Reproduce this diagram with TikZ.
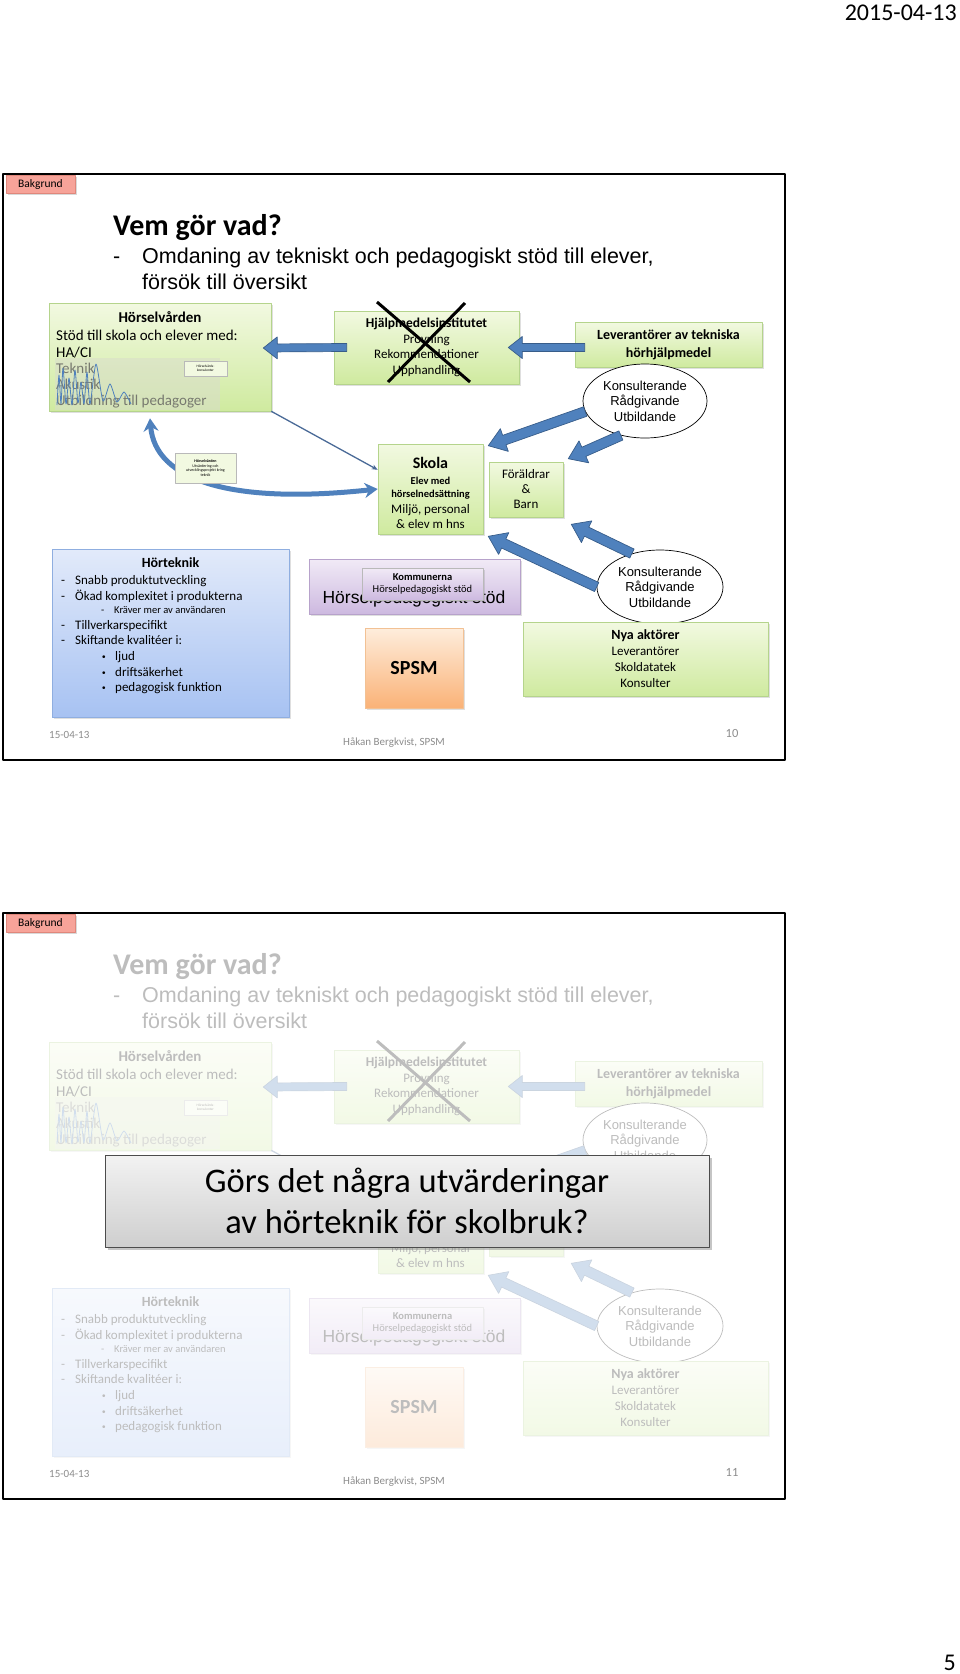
\documentclass[tikz,border=0pt]{standalone}
\usepackage{fontspec}
\setmainfont{Carlito}
\newfontfamily\arialfont{Liberation Sans}
\usetikzlibrary{calc,shadows,arrows.meta,shapes.geometric}

\definecolor{arrowblue}{HTML}{4F81BD}
\definecolor{arrowedge}{HTML}{385D8A}
\definecolor{thinblue}{HTML}{4A6A97}
\definecolor{greentop}{HTML}{F2F9E1}
\definecolor{greenbot}{HTML}{CFEA9F}
\definecolor{greenedge}{HTML}{B5D48C}
\definecolor{bluetop}{HTML}{E2EAFA}
\definecolor{bluebot}{HTML}{A7C2F2}
\definecolor{blueedge}{HTML}{8FAEE0}
\definecolor{purptop}{HTML}{F1EAF6}
\definecolor{purpbot}{HTML}{CDB9E0}
\definecolor{purpedge}{HTML}{B7A2CB}
\definecolor{komfill}{HTML}{EDE6F3}
\definecolor{orangetop}{HTML}{FEEDDC}
\definecolor{orangebot}{HTML}{FAB277}
\definecolor{orangeedge}{HTML}{F2C194}
\definecolor{tabfill}{HTML}{F7A399}
\definecolor{tabedge}{HTML}{E0877B}
\definecolor{footgray}{HTML}{8C8C8C}
\definecolor{veil}{HTML}{D9DDCB}

\newcommand{\fsz}[2]{\fontsize{#1}{#2}\selectfont}
\newcommand{\smallbullet}{\makebox[13pt][l]{\arialfont\fsz{10}{12}\textbullet}}

\newcommand{\barrow}[5]{%
  \coordinate (bh) at ($(#5)!#3pt!(#4)$);
  \filldraw[blockarrow] ($(#4)!#1pt!90:(#5)$) -- ($(bh)!#1pt!90:(#5)$) -- ($(bh)!#2pt!90:(#5)$)
    -- (#5) -- ($(bh)!#2pt!-90:(#5)$) -- ($(bh)!#1pt!-90:(#5)$) -- ($(#4)!#1pt!-90:(#5)$) -- cycle;}

\newcommand{\slidebody}{%
  \node[txtl, font=\bfseries\fsz{30}{36}] (title) at (113,235) {Vem gör vad?};
  \node[txtl, font=\arialfont\fsz{21.5}{26}] (dash) at (113,263) {-};
  \node[txtl, font=\arialfont\fsz{21.5}{26}] (sub1) at (142,263) {Omdaning av tekniskt och pedagogiskt stöd till elever,};
  \node[txtl, font=\arialfont\fsz{21.5}{26}] (sub2) at (142,289) {försök till översikt};
  \node[gbox, minimum width=222pt, minimum height=108pt] (hv) at (160,357) {};
  \node[txt, font=\bfseries\fsz{15}{18}] (hvt) at (160,322) {Hörselvården};
  \node[txtl, font=\fsz{15}{18}] (hv1) at (56,340) {Stöd till skola och elever med:};
  \node[txtl, font=\fsz{15}{18}] (hv2) at (56,357) {HA/CI};
  \node[txtl, font=\fsz{15}{18}] (hv3) at (56,373) {Teknik};
  \node[txtl, font=\fsz{15}{18}] (hv4) at (56,389) {Akustik};
  \node[txtl, font=\fsz{15}{18}] (hv5) at (56,405) {Utbildning till pedagoger};
  \fill[veil, opacity=0.55] (55,358) rectangle (220,410);
  \draw[arrowblue, line width=0.8pt] plot[smooth, tension=0.4] coordinates {(57,405) (59,375) (61,404)
    (63,368) (66,404) (69,378) (72,405) (75,370) (78,403) (81,382) (84,404) (87,372) (90,404)
    (96,364) (103,401) (110,384) (117,402) (124,392) (131,404)};
  \node[smallbox, minimum width=43pt, minimum height=15pt, font=\fsz{3.5}{4.2}] (kons) at (205.5,368.5) {Hörselvårds-\\konsulenter};
  \node[gbox, minimum width=185pt, minimum height=73pt, align=center, font=\fsz{13}{15.5}] (hjm) at (426.5,347.5)
    {{\bfseries\fsz{13.5}{15.5}Hjälpmedelsinstitutet}\\Provning\\Rekommendationer\\Upphandling};
  \draw[line width=3pt] (377,302) -- (470,382);
  \draw[line width=3pt] (465,303) -- (388,382);
  \node[gbox, minimum width=187pt, minimum height=45pt, align=center, font=\bfseries\fsz{14}{18}] (lev) at (668.5,344.5)
    {Leverantörer av tekniska\\hörhjälpmedel};
  \node[gbox, minimum width=105pt, minimum height=90pt] (skola) at (430.5,489) {};
  \node[txt, font=\bfseries\fsz{16}{18}] (skt) at (430.5,468) {Skola};
  \node[txt, font=\bfseries\fsz{10.5}{12}] (sk1) at (430.5,484) {Elev med};
  \node[txt, font=\bfseries\fsz{10.5}{12}] (sk2) at (430.5,497) {hörselnedsättning};
  \node[txt, font=\fsz{13}{15}] (sk3) at (430.5,513) {Miljö, personal};
  \node[txt, font=\fsz{13}{15}] (sk4) at (430.5,528) {\& elev m hns};
  \node[gbox, minimum width=74pt, minimum height=55pt, align=center, font=\fsz{13}{15}] (foraldrar) at (526,489.5)
    {Föräldrar\\\&\\Barn};
  \node[bbox, minimum width=237pt, minimum height=168pt] (horteknik) at (170.5,633) {};
  \node[txt, font=\bfseries\fsz{14}{16}] (htt) at (170.5,567) {Hörteknik};
  \node[txtl, font=\fsz{13}{15}] (ht1) at (61,584) {\makebox[14pt][l]{-}Snabb produktutveckling};
  \node[txtl, font=\fsz{13}{15}] (ht2) at (61,600) {\makebox[14pt][l]{-}Ökad komplexitet i produkterna};
  \node[txtl, font=\fsz{10.5}{12}] (ht3) at (101,613) {\makebox[13pt][l]{-}Kräver mer av användaren};
  \node[txtl, font=\fsz{13}{15}] (ht4) at (61,629) {\makebox[14pt][l]{-}Tillverkarspecifikt};
  \node[txtl, font=\fsz{13}{15}] (ht5) at (61,644) {\makebox[14pt][l]{-}Skiftande kvalitéer i:};
  \node[txtl, font=\fsz{13}{15}] (ht6) at (102,660) {\smallbullet ljud};
  \node[txtl, font=\fsz{13}{15}] (ht7) at (102,676) {\smallbullet driftsäkerhet};
  \node[txtl, font=\fsz{13}{15}] (ht8) at (102,691) {\smallbullet pedagogisk funktion};
  \node[pbox, minimum width=211pt, minimum height=55pt] (hps) at (414.5,586.5) {};
  \node[txt, font=\arialfont\fsz{17.5}{20}] (hpst) at (414,603) {Hörselpedagogiskt stöd};
  \node[pbox, fill=komfill, draw=gray!55, minimum width=121pt, minimum height=32pt, align=center, font=\fsz{10.5}{12}] (kommun) at (422.5,584)
    {\textbf{Kommunerna}\\Hörselpedagogiskt stöd};
  \node[obox, minimum width=98pt, minimum height=80pt, font=\bfseries\fsz{20}{24}] (spsm) at (414,668) {SPSM};
  \barrow{4}{11}{14}{$(hjm.west)+(13,0)$}{$(hv.east)+(-8,-9)$}
  \barrow{4}{11}{14}{$(lev.west)+(10,3)$}{$(hjm.east)+(-11,0)$}
  \draw[thinline] (hv.south east) -- (skola.160);
  \draw[curvearrow] ($(hv.south)+(-10,7)$) .. controls (155,480) and (230,505) .. (skola.west);
  \node[smallbox, minimum width=61pt, minimum height=30pt, font=\fsz{4}{4.8}] (sv) at (205.5,468)
    {\textbf{Hörselvården}\\Utvärdering och\\utvecklingsprojekt kring\\teknik};
  \node[oval, minimum width=124pt, minimum height=74pt, font=\arialfont\fsz{13}{15.5}] (ell1) at (645,401)
    {Konsulterande\\Rådgivande\\Utbildande};
  \barrow{5}{12}{17}{ell1.190}{$(skola.north east)+(5,2)$}
  \barrow{5}{12}{17}{ell1.235}{$(foraldrar.north east)+(5,-3)$}
  \node[oval, minimum width=126pt, minimum height=74pt, font=\arialfont\fsz{13}{15.5}] (ell2) at (660,587)
    {Konsulterande\\Rådgivande\\Utbildande};
  \barrow{5}{12}{17}{ell2.180}{$(skola.south east)+(5,2)$}
  \barrow{5}{12}{17}{ell2.130}{$(foraldrar.south east)+(8,7)$}
  \node[gbox, minimum width=245pt, minimum height=74pt, align=center, font=\fsz{13}{16}] (nya) at (645.5,659)
    {{\bfseries\fsz{14}{16}Nya aktörer}\\Leverantörer\\Skoldatatek\\Konsulter};
}

\newcommand{\slideframe}[1]{%
  \draw[line width=2pt] (3,174) rectangle (785,760);
  \node[tab, minimum width=69pt, minimum height=18pt, font=\fsz{11.5}{13}] (tab) at (40.5,184) {Bakgrund};
  \node[txtl, font=\fsz{11}{13}, text=footgray] (datum) at (49,738) {15-04-13};
  \node[txt, font=\fsz{11}{13}, text=footgray] (namn) at (394,745) {Håkan Bergkvist, SPSM};
  \node[txt, font=\fsz{12.5}{14}, text=footgray] (nr) at (732,737) {#1};
}

\begin{document}
\begin{tikzpicture}[x=1pt,y=-1pt,line join=round,
  txt/.style={inner sep=0pt,anchor=base},
  txtl/.style={inner sep=0pt,anchor=base west},
  gbox/.style={draw=greenedge,line width=0.6pt,top color=greentop,bottom color=greenbot,inner sep=0pt,
    drop shadow={opacity=0.25,shadow xshift=1.5pt,shadow yshift=-2pt}},
  bbox/.style={draw=blueedge,line width=0.6pt,top color=bluetop,bottom color=bluebot,inner sep=0pt,
    drop shadow={opacity=0.25,shadow xshift=1.5pt,shadow yshift=-2pt}},
  pbox/.style={draw=purpedge,line width=0.6pt,top color=purptop,bottom color=purpbot,inner sep=0pt,
    drop shadow={opacity=0.25,shadow xshift=1.5pt,shadow yshift=-2pt}},
  obox/.style={draw=orangeedge,line width=0.6pt,top color=orangetop,bottom color=orangebot,inner sep=0pt,
    drop shadow={opacity=0.25,shadow xshift=1.5pt,shadow yshift=-2pt}},
  smallbox/.style={draw=gray!55,fill=greentop,line width=0.4pt,inner sep=0pt,align=center,
    drop shadow={opacity=0.2,shadow xshift=1pt,shadow yshift=-1pt}},
  tab/.style={draw=tabedge,fill=tabfill,line width=0.5pt,inner sep=0pt,
    drop shadow={opacity=0.3,shadow xshift=1.5pt,shadow yshift=-2pt}},
  oval/.style={ellipse,draw,fill=white,line width=0.7pt,inner sep=0pt,align=center},
  blockarrow/.style={fill=arrowblue,draw=arrowedge,line width=0.7pt},
  thinline/.style={thinblue,line width=1.3pt,-{Stealth[length=6pt,width=5pt]}},
  curvearrow/.style={arrowblue,line width=5pt,{Stealth[length=13pt,width=15pt]}-{Stealth[length=13pt,width=15pt]}},
  popup/.style={draw=black!70,line width=0.8pt,top color=gray!10,bottom color=gray!38,inner sep=0pt,align=center,
    drop shadow={opacity=0.45,shadow xshift=2.5pt,shadow yshift=-3pt}}]
  \useasboundingbox (0,0) rectangle (960,1674);
  \node[anchor=base east, inner sep=0pt, font=\fsz{24}{28}] (hdate) at (957,20) {2015-04-13};
  \begin{scope}[name prefix=a-]
    \slidebody
    \slideframe{10}
  \end{scope}
  \begin{scope}[yshift=-739pt, name prefix=b-]
    \slidebody
    \fill[white, opacity=0.74] (5,195) rectangle (782,722);
    \slideframe{11}
    \node[popup, minimum width=604pt, minimum height=92pt, font=\fsz{34.5}{41}] (fraga) at (407,462)
      {Görs det några utvärderingar\\av hörteknik för skolbruk?};
  \end{scope}
  \node[anchor=base east, inner sep=0pt, font=\fsz{24}{28}] (pagenr) at (956,1670) {5};
\end{tikzpicture}
\end{document}
